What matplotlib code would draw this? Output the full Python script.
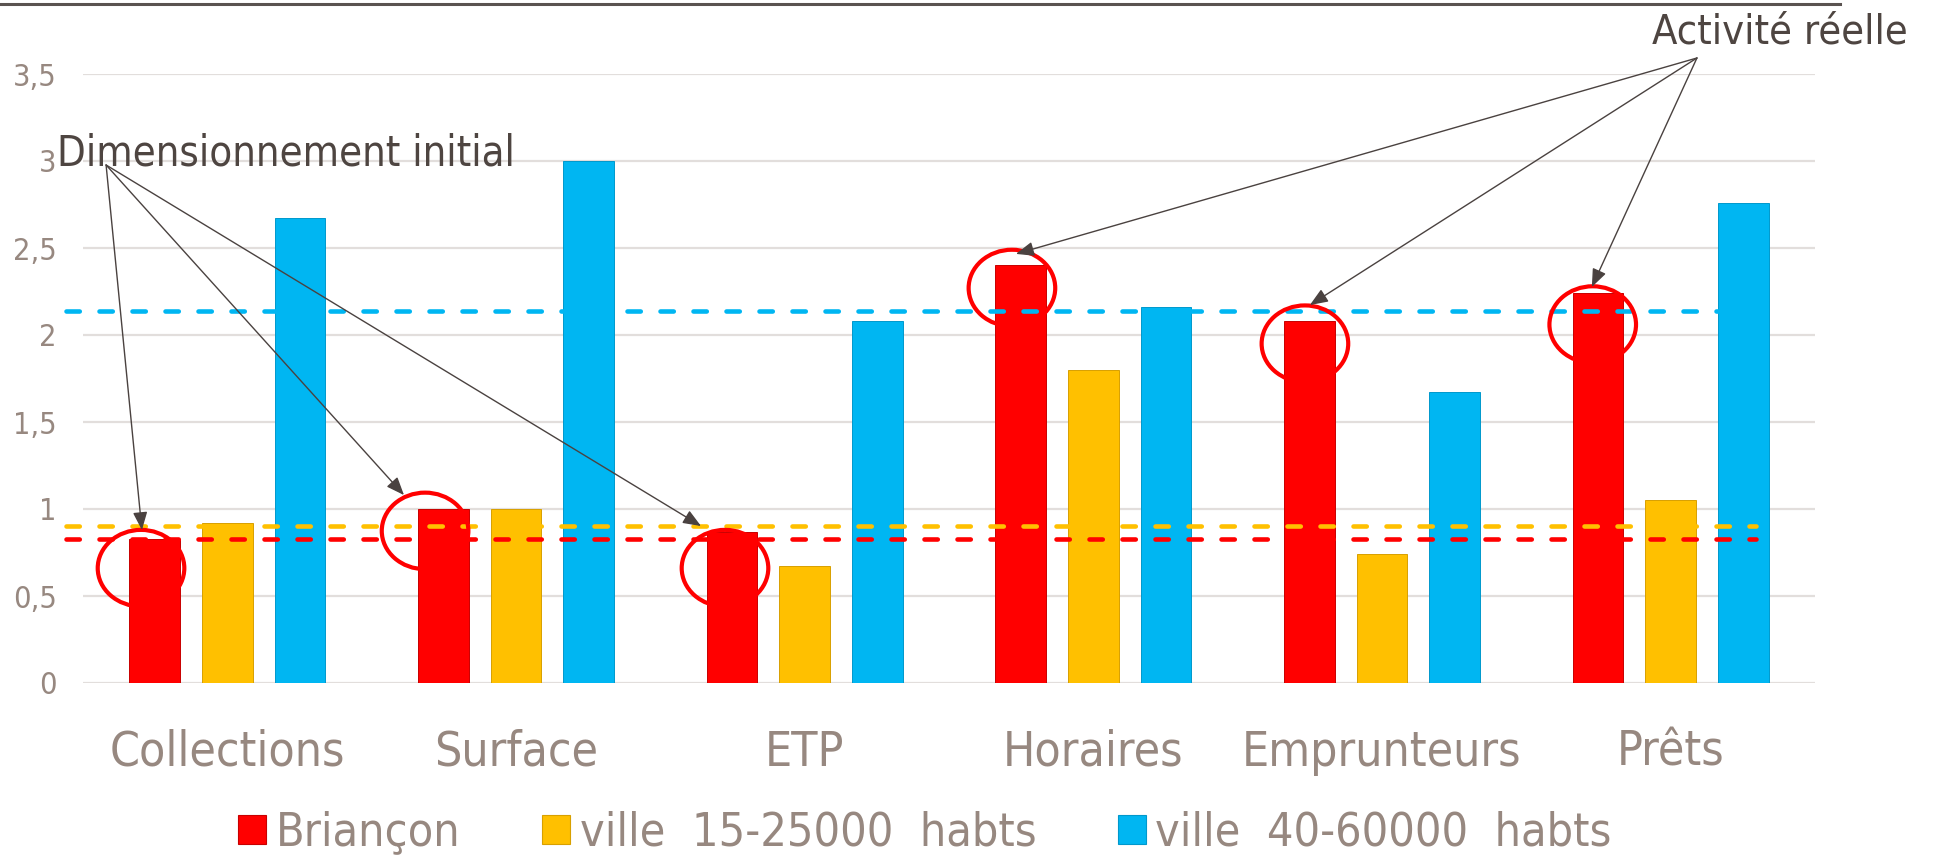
import matplotlib
matplotlib.use("Agg")
import matplotlib.pyplot as plt
from matplotlib import font_manager as fm
from matplotlib.patches import Ellipse, Patch
from matplotlib.lines import Line2D
import numpy as np

# ---------------- data ----------------
categories = ["Collections", "Surface", "ETP", "Horaires", "Emprunteurs", "Prêts"]
series_names = ["Briançon", "ville  15-25000  habts", "ville  40-60000  habts"]
briancon = [0.83, 1.00, 0.87, 2.40, 2.08, 2.24]
ville_15_25 = [0.92, 1.00, 0.67, 1.80, 0.74, 1.05]
ville_40_60 = [2.67, 3.00, 2.08, 2.16, 1.67, 2.76]
ref_lines = [0.83, 0.90, 2.14]          # red, yellow, blue dashed reference levels
yticks = [0, 0.5, 1, 1.5, 2, 2.5, 3, 3.5]
ytick_labels = ["0", "0,5", "1", "1,5", "2", "2,5", "3", "3,5"]
label_initial = "Dimensionnement initial"
label_real = "Activité réelle"

# ---------------- style ----------------
colors = ["#FF0000", "#FFC000", "#00B6F2"]
edge_colors = ["#C80000", "#D8A000", "#0098CC"]
label_color = "#978880"
text_color = "#4E4541"
arrow_color = "#4A4240"

has_cond = any(f.name == "DejaVu Sans" and str(f.stretch) == "condensed"
               for f in fm.fontManager.ttflist)
font_kw = dict(family="DejaVu Sans", stretch="condensed") if has_cond else dict(family="DejaVu Sans")
k = 1.0 if has_cond else 0.88

def fp(size):
    return fm.FontProperties(size=size * k, **font_kw)

W, H, DPI = 1937, 860, 100
fig = plt.figure(figsize=(W / DPI, H / DPI), dpi=DPI)
ax = fig.add_axes([83 / W, 1 - 683 / H, (1815 - 83) / W, (683 - 74) / H])

x = np.arange(len(categories))
bw = 0.175
step = 0.252
for i, vals in enumerate([briancon, ville_15_25, ville_40_60]):
    ax.bar(x + (i - 1) * step, vals, width=bw, color=colors[i],
           edgecolor=edge_colors[i], linewidth=0.7, zorder=3)

ax.set_xlim(-0.5, len(categories) - 0.5)
ax.set_ylim(0, 3.5)
ax.set_yticks(yticks)
ax.set_yticklabels(ytick_labels)
ax.set_xticks(x)
ax.set_xticklabels(categories)
ax.grid(axis="y", color="#E2DEDC", linewidth=1.6, zorder=0)
ax.set_axisbelow(True)
for s in ax.spines.values():
    s.set_visible(False)
ax.tick_params(axis="both", length=0)
ax.tick_params(axis="y", pad=19, labelcolor=label_color)
ax.tick_params(axis="x", pad=33, labelcolor=label_color)
for lab in ax.get_yticklabels():
    lab.set_fontproperties(fp(22))
for lab in ax.get_xticklabels():
    lab.set_fontproperties(fp(34.5))

# dashed reference lines (extend slightly left of plot area)
x0_line, x1_line = -0.559, 5.296
for lvl, c in zip(ref_lines, colors):
    ax.plot([x0_line, x1_line], [lvl, lvl], color=c, lw=3.3,
            linestyle=(0, (2.9, 4.3)), dash_capstyle="round",
            zorder=4, clip_on=False)

# red ellipses around Briançon bar tops
ellipse_centers = [(-0.299, 0.66), (0.685, 0.874), (1.724, 0.66),
                   (2.718, 2.27), (3.733, 1.95), (4.73, 2.06)]
for cx, cy in ellipse_centers:
    ax.add_patch(Ellipse((cx, cy), 0.30, 0.44, fill=False, edgecolor="#FF0000",
                         lw=3.0, zorder=5, clip_on=False))

# annotations
ap = dict(arrowstyle="-|>,head_length=0.55,head_width=0.22", color=arrow_color,
          lw=1.0, shrinkA=0, shrinkB=0, mutation_scale=20)
origin_initial = (-0.420, 2.977)
for tip in [(-0.296, 0.879), (0.612, 1.080), (1.641, 0.902)]:
    ax.annotate("", xy=tip, xytext=origin_initial, arrowprops=ap, zorder=6,
                annotation_clip=False)
origin_real = (5.091, 3.592)
for tip in [(2.732, 2.466), (3.750, 2.172), (4.727, 2.276)]:
    ax.annotate("", xy=tip, xytext=origin_real, arrowprops=ap, zorder=6,
                annotation_clip=False)

ax.text(-0.590, 2.977, label_initial, color=text_color, ha="left", va="baseline",
        fontproperties=fp(30), zorder=7, clip_on=False)
ax.text(4.935, 3.678, label_real, color=text_color, ha="left", va="baseline",
        fontproperties=fp(29.8), zorder=7, clip_on=False)

# top rule
fig.add_artist(Line2D([0, 1840 / W], [1 - 4 / H, 1 - 4 / H], color="#5A5350",
                      lw=2.2, transform=fig.transFigure))

# legend
handles = [Patch(facecolor=colors[i], edgecolor=edge_colors[i], lw=0.8)
           for i in range(3)]
leg = fig.legend(handles, series_names, loc="center", ncol=3,
                 bbox_to_anchor=(925 / W, 1 - 833 / H), frameon=False,
                 prop=fp(33.5),
                 handlelength=0.6, handleheight=0.58, handletextpad=0.21,
                 columnspacing=1.75, borderpad=0)
for t in leg.get_texts():
    t.set_color(label_color)

fig.savefig("out.png", dpi=DPI)
